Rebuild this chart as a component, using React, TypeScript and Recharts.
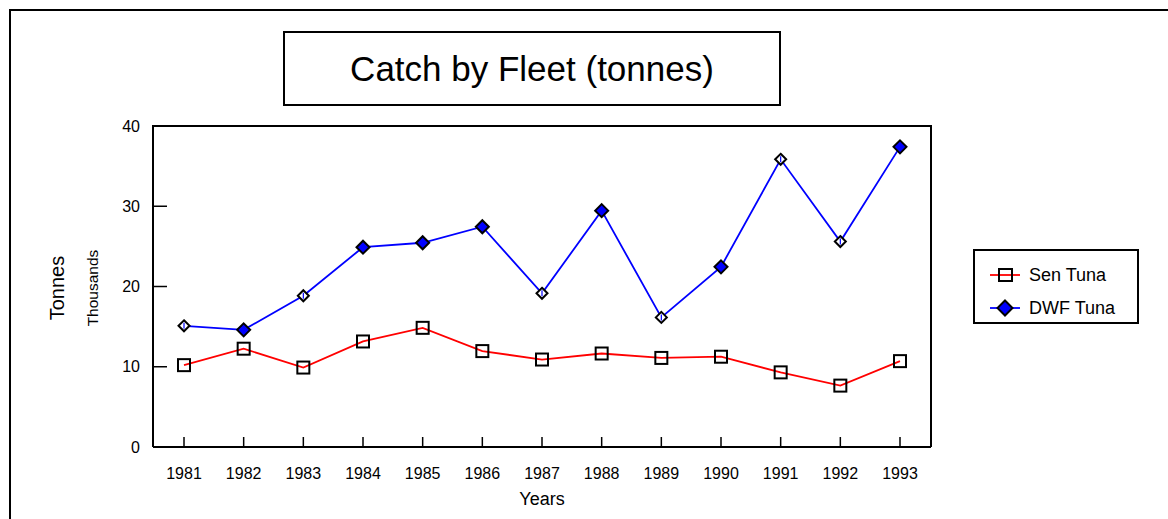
import { LineChart, Line, XAxis, YAxis, Label } from 'recharts'

const years = ['1981', '1982', '1983', '1984', '1985', '1986', '1987', '1988', '1989', '1990', '1991', '1992', '1993']
const senTuna = [10.2, 12.25, 9.9, 13.15, 14.85, 11.95, 10.9, 11.65, 11.1, 11.25, 9.3, 7.65, 10.7]
const dwfTuna = [15.1, 14.6, 18.85, 24.9, 25.45, 27.45, 19.15, 29.45, 16.15, 22.45, 35.85, 25.6, 37.4]
// years where the DWF marker is drawn hollow in the original
const dwfHollow = ['1981', '1983', '1987', '1989', '1991', '1992']
const yTicks = [0, 10, 20, 30, 40]

const data = years.map((year, i) => ({ year, sen: senTuna[i], dwf: dwfTuna[i] }))

const FONT = '"Liberation Sans", Arial, sans-serif'

function SquareDot(props: any) {
  const { cx, cy } = props
  if (cx == null || cy == null) return null
  return <rect x={cx - 6} y={cy - 6} width={12} height={12} fill="none" stroke="#000" strokeWidth={2} />
}

function DiamondDot(props: any) {
  const { cx, cy, payload } = props
  if (cx == null || cy == null) return null
  const hollow = dwfHollow.includes(payload.year)
  const r = hollow ? 5.5 : 6.5
  const d = `M${cx},${cy - r} L${cx + r},${cy} L${cx},${cy + r} L${cx - r},${cy} Z`
  return (
    <g>
      <path d={d} fill={hollow ? '#fff' : '#0000ff'} stroke="#000" strokeWidth={2} />
      {hollow && <line x1={cx} y1={cy - 3} x2={cx} y2={cy + 3} stroke="#0000ff" strokeWidth={1.2} />}
    </g>
  )
}

const series = [
  { key: 'sen', name: 'Sen Tuna', color: '#ff0000', marker: 'square' },
  { key: 'dwf', name: 'DWF Tuna', color: '#0000ff', marker: 'diamond' },
]

export default function App() {
  return (
    <div style={{ position: 'absolute', left: 0, top: 0, width: 1168, height: 519, overflow: 'hidden', background: '#fff', fontFamily: FONT }}>
      {/* outer frame, cut off at right and bottom */}
      <div style={{ position: 'absolute', left: 9, top: 9, width: 1300, height: 700, borderLeft: '2px solid #000', borderTop: '2px solid #000' }} />

      {/* Title box */}
      <div style={{
        position: 'absolute', left: 283, top: 31, width: 494, height: 71,
        border: '2px solid #000', display: 'flex', alignItems: 'center', justifyContent: 'center',
        fontSize: 35, color: '#000',
      }}>
        Catch by Fleet (tonnes)
      </div>

      <div style={{ position: 'absolute', left: 0, top: 0 }}>
        <LineChart width={1168} height={519} data={data} margin={{ top: 126, right: 237, bottom: 0, left: 0 }}>
          <XAxis
            dataKey="year"
            height={72}
            padding={{ left: 31, right: 31 }}
            axisLine={{ stroke: '#000', strokeWidth: 2 }}
            tickLine={{ stroke: '#000', strokeWidth: 1.5 }}
            tickSize={-10}
            tickMargin={31}
            tick={{ fill: '#000', fontSize: 16 }}
            interval={0}
          >
            <Label content={() => (
              <text x={542} y={499} textAnchor="middle" dominantBaseline="central" fontSize={18} fill="#000">Years</text>
            )} />
          </XAxis>
          <YAxis
            width={153}
            domain={[0, 40]}
            ticks={yTicks}
            axisLine={{ stroke: '#000', strokeWidth: 2 }}
            tickLine={{ stroke: '#000', strokeWidth: 1.5 }}
            tickSize={-14}
            tickMargin={27}
            tick={{ fill: '#000', fontSize: 16 }}
          >
            <Label content={() => (
              <g>
                <text x={57} y={288} transform="rotate(-90 57 288)" textAnchor="middle" dominantBaseline="central" fontSize={20} fill="#000">Tonnes</text>
                <text x={92} y={288} transform="rotate(-90 92 288)" textAnchor="middle" dominantBaseline="central" fontSize={15.5} fill="#000">Thousands</text>
              </g>
            )} />
          </YAxis>
          <Line dataKey="sen" name="Sen Tuna" stroke="#ff0000" strokeWidth={1.8} dot={<SquareDot />} activeDot={false} isAnimationActive={false} />
          <Line dataKey="dwf" name="DWF Tuna" stroke="#0000ff" strokeWidth={1.8} dot={<DiamondDot />} activeDot={false} isAnimationActive={false} />
        </LineChart>
      </div>

      {/* top and right edges of the plot frame */}
      <div style={{
        position: 'absolute', left: 152, top: 125, width: 780, height: 322, boxSizing: 'border-box',
        borderTop: '2px solid #000', borderRight: '2px solid #000', pointerEvents: 'none',
      }} />

      {/* Legend */}
      <div style={{
        position: 'absolute', left: 973, top: 249, width: 162, height: 71,
        border: '2px solid #000', fontSize: 18, color: '#000',
      }}>
        {series.map((s, i) => (
          <div key={s.key} style={{ position: 'absolute', left: 14, top: 13 + i * 33, height: 22, display: 'flex', alignItems: 'center' }}>
            <svg width={32} height={22}>
              <line x1={1} y1={11} x2={31} y2={11} stroke={s.color} strokeWidth={1.8} />
              {s.marker === 'square'
                ? <rect x={10} y={5} width={13} height={12} fill="none" stroke="#000" strokeWidth={2} />
                : <path d="M16,3.5 L23.5,11 L16,18.5 L8.5,11 Z" fill="#0000ff" stroke="#000" strokeWidth={2} />}
            </svg>
            <span style={{ marginLeft: 8 }}>{s.name}</span>
          </div>
        ))}
      </div>
    </div>
  )
}
